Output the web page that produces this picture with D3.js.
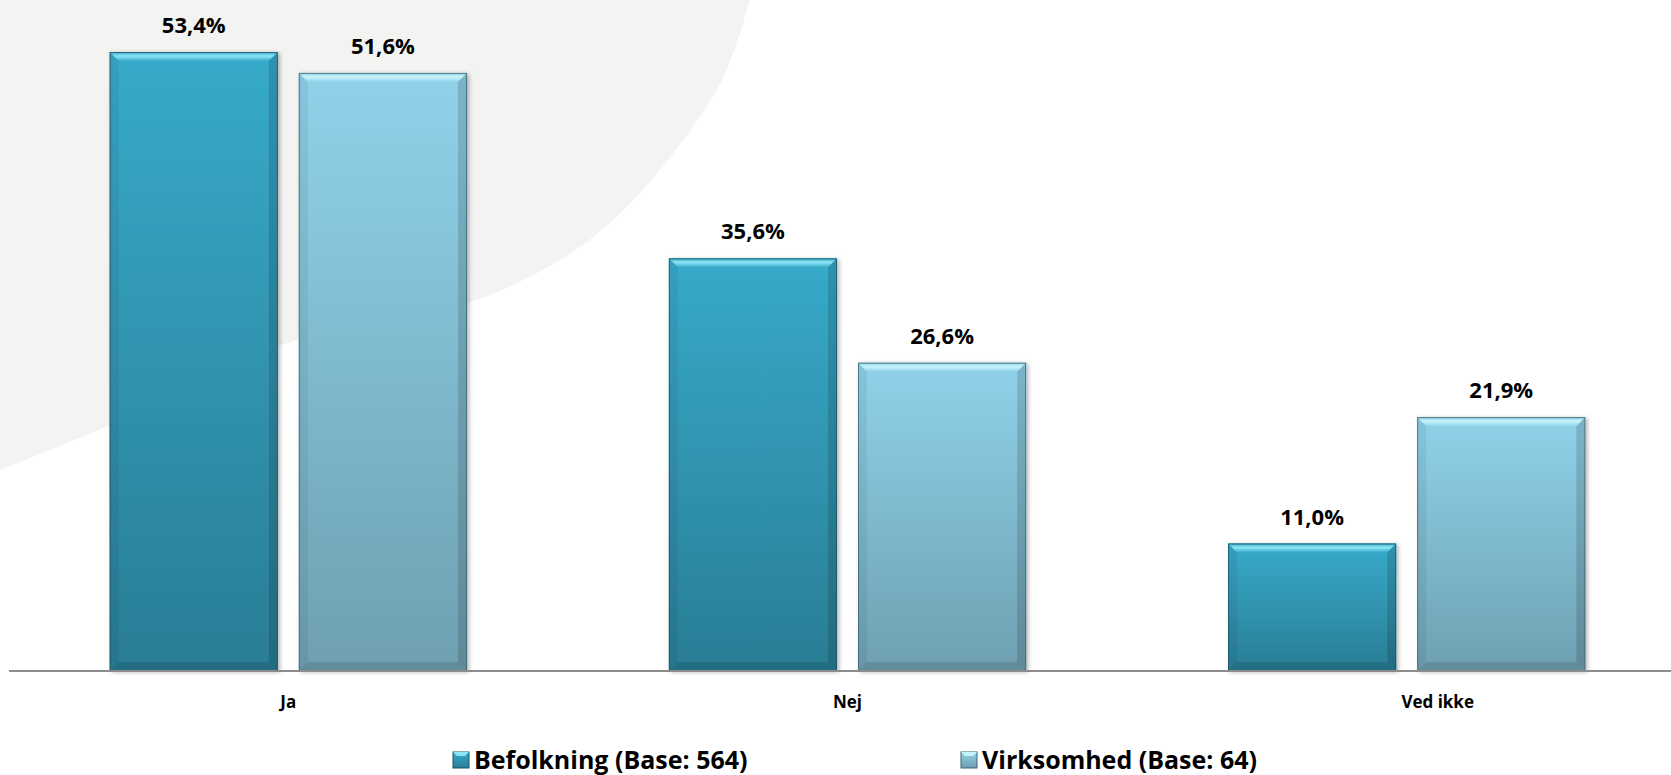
<!DOCTYPE html>
<html>
<head>
<meta charset="utf-8">
<script src="https://cdn.jsdelivr.net/npm/d3@7"></script>
<style>
    html, body { margin: 0; padding: 0; background: #ffffff; }
    svg { display: block; font-family: "Open Sans", Lato, sans-serif; }
</style>
</head>
<body>
<div id="chart"></div>
<script>
(function() {
    // chart data
    var categories = ['Ja', 'Nej', 'Ved ikke'];
    var seriesNames = ['Befolkning (Base: 564)', 'Virksomhed (Base: 64)'];
    var befolkning = [53.4, 35.6, 11.0];
    var virksomhed = [51.6, 26.6, 21.9];

    var WIDTH = 1671;
    var HEIGHT = 775;
    var BASELINE_Y = 671;
    var BEVEL = 9;

    // the last category label sits a little right of its group in the source
    var LABEL_NUDGE = {'Ved ikke': 31};

    // fills per series: [top, bottom, bevel light]
    var seriesColors = [
        {top: '#37aaca', bottom: '#2a7d94', light: '#8ce6f5', edge: '#1d5566'},
        {top: '#90d2ea', bottom: '#6ea0b1', light: '#c9f3fb', edge: '#3d6470'}
    ];

    // outline of the light background blob in the upper left (decoration only)
    var blobEdge = [[0, 470], [110, 425], [290, 342], [468, 303], [560, 260],
        [613, 220], [668, 160], [722, 80], [750, 0]];

    var locale = d3.formatLocale({decimal: ',', thousands: '.', grouping: [3], currency: ['', ' kr']});
    var fmt = locale.format('.1f');

    var svg = d3.select('#chart').append('svg')
        .attr('width', WIDTH)
        .attr('height', HEIGHT);

    var defs = svg.append('defs');

    seriesColors.forEach(function(c, i) {
        var g = defs.append('linearGradient')
            .attr('id', 'body' + i)
            .attr('x1', 0).attr('y1', 0).attr('x2', 0).attr('y2', 1);
        g.append('stop').attr('offset', '0%').attr('stop-color', c.top);
        g.append('stop').attr('offset', '100%').attr('stop-color', c.bottom);

        var t = defs.append('linearGradient')
            .attr('id', 'bevel' + i)
            .attr('x1', 0).attr('y1', 0).attr('x2', 0).attr('y2', 1);
        t.append('stop').attr('offset', '0%').attr('stop-color', c.top);
        t.append('stop').attr('offset', '45%').attr('stop-color', c.light);
        t.append('stop').attr('offset', '100%').attr('stop-color', c.top);
    });

    var shadow = defs.append('filter')
        .attr('id', 'shadow')
        .attr('x', '-10%').attr('y', '-10%').attr('width', '120%').attr('height', '120%');
    shadow.append('feDropShadow')
        .attr('dx', 2).attr('dy', 1)
        .attr('stdDeviation', 2)
        .attr('flood-color', '#000')
        .attr('flood-opacity', 0.3);

    // background blob
    svg.append('path')
        .attr('fill', '#f3f3f1')
        .attr('d', d3.line().curve(d3.curveCatmullRom)(blobEdge) + 'L0,0Z');

    // scales
    var x0 = d3.scaleBand()
        .domain(categories)
        .range([9, 1686])
        .paddingInner(0.361)
        .paddingOuter(0.18);

    var x1 = d3.scaleBand()
        .domain(seriesNames)
        .range([0, x0.bandwidth()])
        .paddingInner(0.111);

    var y = d3.scaleLinear()
        .domain([0, 55])
        .range([BASELINE_Y, 33.5]);

    var rows = categories.map(function(cat, i) {
        return {category: cat, values: [befolkning[i], virksomhed[i]]};
    });

    /**
     * Draws a bar with an excel-like bevel on top and darker edges.
     */
    var drawBar = function(sel, bx, by, bw, bh, si) {
        var c = seriesColors[si];
        var b = Math.min(BEVEL, bh / 2);
        var g = sel.append('g');

        g.append('rect')
            .attr('x', bx).attr('y', by)
            .attr('width', bw).attr('height', bh)
            .attr('fill', 'url(#body' + si + ')')
            .attr('filter', 'url(#shadow)');

        // top bevel
        g.append('polygon')
            .attr('points', [[bx, by], [bx + bw, by], [bx + bw - b, by + b], [bx + b, by + b]].join(' '))
            .attr('fill', 'url(#bevel' + si + ')');
        // left side
        g.append('polygon')
            .attr('points', [[bx, by], [bx + b, by + b], [bx + b, by + bh - b], [bx, by + bh]].join(' '))
            .attr('fill', '#000').attr('fill-opacity', 0.06);
        // right side
        g.append('polygon')
            .attr('points', [[bx + bw, by], [bx + bw, by + bh], [bx + bw - b, by + bh - b], [bx + bw - b, by + b]].join(' '))
            .attr('fill', '#000').attr('fill-opacity', 0.14);
        // bottom
        g.append('polygon')
            .attr('points', [[bx, by + bh], [bx + bw, by + bh], [bx + bw - b, by + bh - b], [bx + b, by + bh - b]].join(' '))
            .attr('fill', '#000').attr('fill-opacity', 0.12);

        g.append('rect')
            .attr('x', bx + 0.5).attr('y', by + 0.5)
            .attr('width', bw - 1).attr('height', bh - 1)
            .attr('fill', 'none')
            .attr('stroke', c.edge)
            .attr('stroke-opacity', 0.8)
            .attr('stroke-width', 1);
    };

    var groups = svg.selectAll('g.cat')
        .data(rows)
        .enter().append('g')
        .attr('class', 'cat')
        .attr('transform', function(d) { return 'translate(' + x0(d.category) + ',0)'; });

    groups.each(function(d) {
        var sel = d3.select(this);
        d.values.forEach(function(v, si) {
            var bx = x1(seriesNames[si]);
            var by = y(v);
            var bw = x1.bandwidth();
            drawBar(sel, bx, by, bw, y(0) - by, si);

            sel.append('text')
                .attr('x', bx + bw / 2)
                .attr('y', by - 19)
                .attr('text-anchor', 'middle')
                .attr('font-size', 22)
                .attr('font-weight', 'bold')
                .attr('fill', '#000')
                .text(fmt(v) + '%');
        });
    });

    // x axis line
    svg.append('line')
        .attr('x1', 9).attr('x2', WIDTH)
        .attr('y1', BASELINE_Y).attr('y2', BASELINE_Y)
        .attr('stroke', '#8c8c8c')
        .attr('stroke-width', 2);

    // category labels
    svg.selectAll('text.cat-label')
        .data(categories)
        .enter().append('text')
        .attr('class', 'cat-label')
        .attr('x', function(d) { return x0(d) + x0.bandwidth() / 2 + (LABEL_NUDGE[d] || 0); })
        .attr('y', 708)
        .attr('text-anchor', 'middle')
        .attr('font-size', 17)
        .attr('font-weight', 'bold')
        .attr('fill', '#000')
        .text(function(d) { return d; });

    // legend
    var legendX = [453, 961];
    var legend = svg.selectAll('g.legend')
        .data(seriesNames)
        .enter().append('g')
        .attr('class', 'legend')
        .attr('transform', function(d, i) { return 'translate(' + legendX[i] + ',752)'; });

    legend.each(function(d, i) {
        var sel = d3.select(this);
        var c = seriesColors[i];
        sel.append('rect')
            .attr('x', 0).attr('y', 0)
            .attr('width', 16).attr('height', 16)
            .attr('fill', 'url(#body' + i + ')')
            .attr('stroke', c.edge).attr('stroke-width', 1);
        sel.append('polygon')
            .attr('points', '0,0 16,0 12,4 4,4')
            .attr('fill', c.light);
        sel.append('text')
            .attr('x', 21)
            .attr('y', 17)
            .attr('font-size', 25)
            .attr('font-weight', 'bold')
            .attr('fill', '#000')
            .text(d);
    });
})();
</script>
</body>
</html>
